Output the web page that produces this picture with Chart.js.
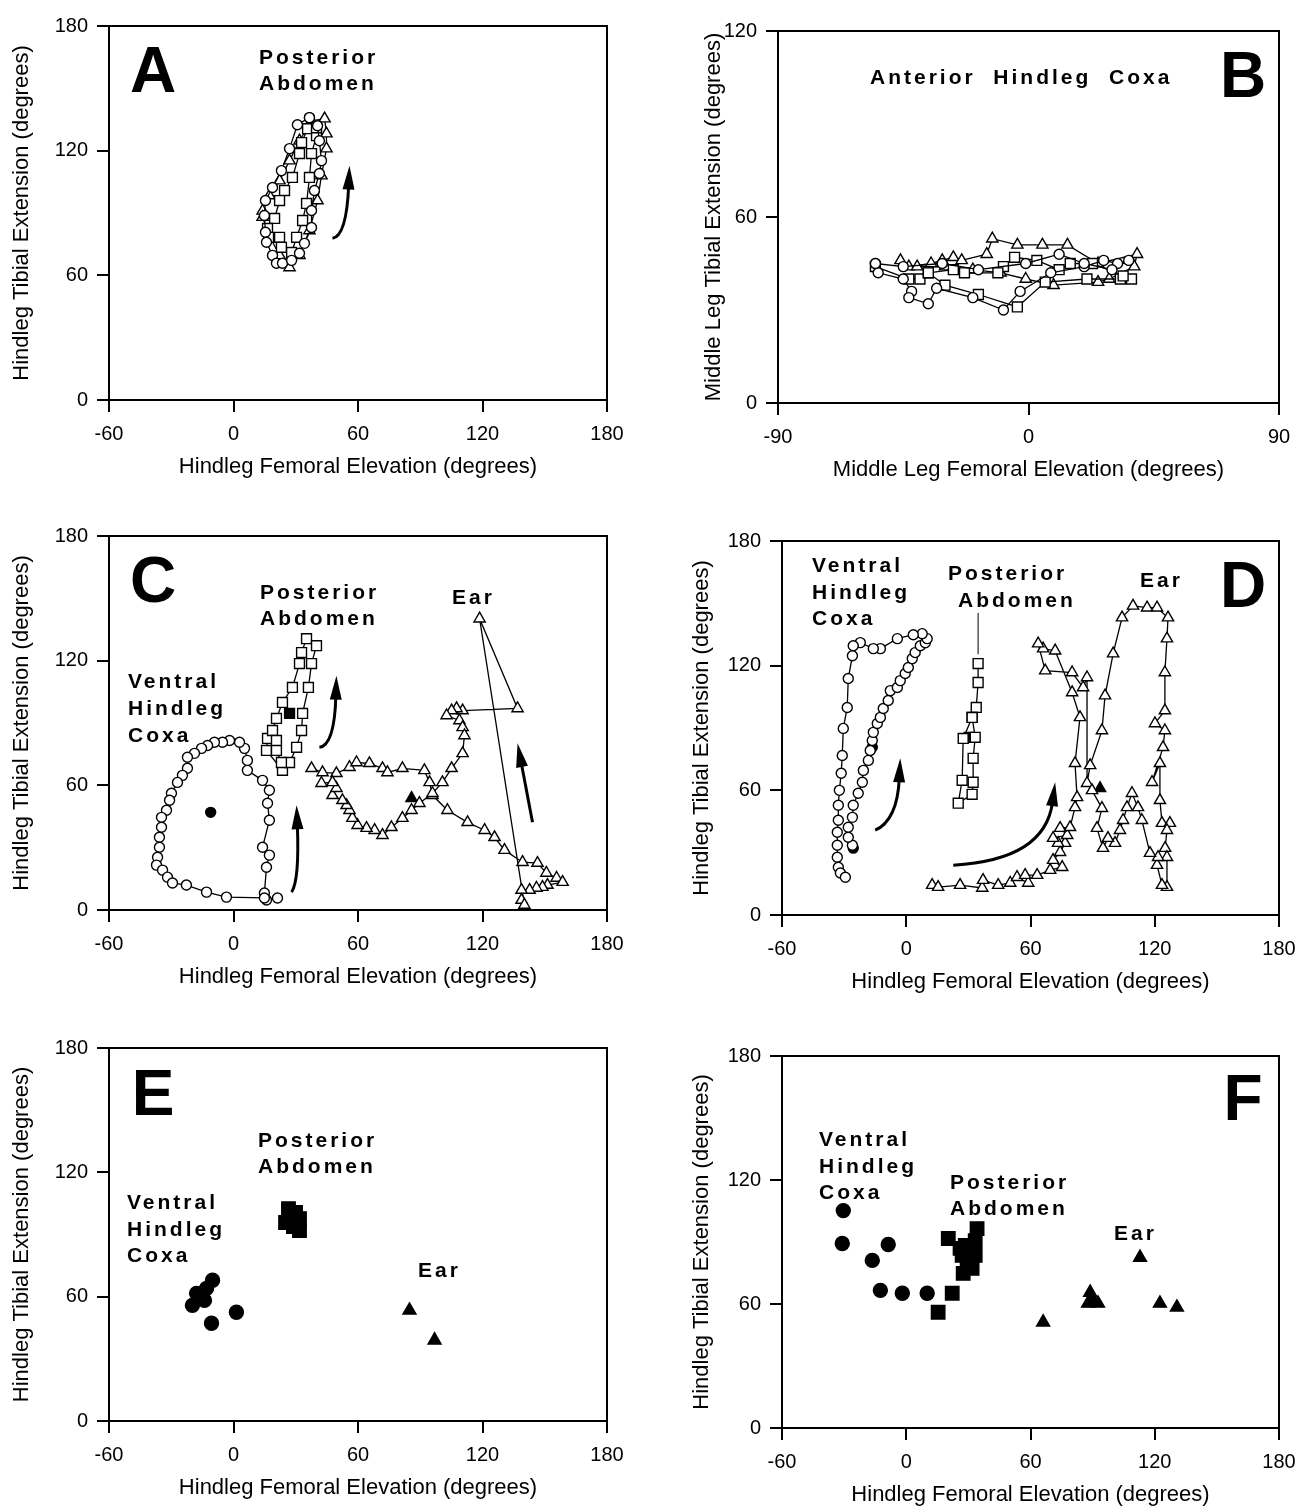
<!DOCTYPE html>
<html>
<head>
<meta charset="utf-8">
<script src="https://cdn.jsdelivr.net/npm/chart.js@4.4.1/dist/chart.umd.min.js"></script>
<style>
body { margin: 0; background: #fff; width: 1301px; height: 1506px; position: relative; overflow: hidden;
       font-family: "Liberation Sans", Arial, sans-serif; }
canvas { position: absolute; }
.lbl { position: absolute; font-weight: bold; font-size: 21px; line-height: 21px; letter-spacing: 3px;
       white-space: pre; color: #000; }
.big { position: absolute; font-weight: bold; font-size: 64px; line-height: 64px; color: #000;
       transform: translate(-50%, -50%); }
</style>
</head>
<body>
<canvas id="cA"></canvas>
<canvas id="cB"></canvas>
<canvas id="cC"></canvas>
<canvas id="cD"></canvas>
<canvas id="cE"></canvas>
<canvas id="cF"></canvas>

<div class="big" style="left:153px;top:70px">A</div>
<div class="lbl" style="left:259px;top:46px">Posterior</div>
<div class="lbl" style="left:259px;top:72px">Abdomen</div>

<div class="big" style="left:1243px;top:75px">B</div>
<div class="lbl" style="left:870px;top:66px">Anterior  Hindleg  Coxa</div>

<div class="big" style="left:153px;top:580px">C</div>
<div class="lbl" style="left:260px;top:581px">Posterior</div>
<div class="lbl" style="left:260px;top:607px">Abdomen</div>
<div class="lbl" style="left:452px;top:586px">Ear</div>
<div class="lbl" style="left:128px;top:670px">Ventral</div>
<div class="lbl" style="left:128px;top:697px">Hindleg</div>
<div class="lbl" style="left:128px;top:724px">Coxa</div>

<div class="big" style="left:1243px;top:585px">D</div>
<div class="lbl" style="left:812px;top:554px">Ventral</div>
<div class="lbl" style="left:812px;top:581px">Hindleg</div>
<div class="lbl" style="left:812px;top:607px">Coxa</div>
<div class="lbl" style="left:948px;top:562px">Posterior</div>
<div class="lbl" style="left:958px;top:589px">Abdomen</div>
<div class="lbl" style="left:1140px;top:569px">Ear</div>

<div class="big" style="left:153px;top:1093px">E</div>
<div class="lbl" style="left:258px;top:1129px">Posterior</div>
<div class="lbl" style="left:258px;top:1155px">Abdomen</div>
<div class="lbl" style="left:127px;top:1191px">Ventral</div>
<div class="lbl" style="left:127px;top:1218px">Hindleg</div>
<div class="lbl" style="left:127px;top:1244px">Coxa</div>
<div class="lbl" style="left:418px;top:1259px">Ear</div>

<div class="big" style="left:1243px;top:1098px">F</div>
<div class="lbl" style="left:819px;top:1128px">Ventral</div>
<div class="lbl" style="left:819px;top:1155px">Hindleg</div>
<div class="lbl" style="left:819px;top:1181px">Coxa</div>
<div class="lbl" style="left:950px;top:1171px">Posterior</div>
<div class="lbl" style="left:950px;top:1197px">Abdomen</div>
<div class="lbl" style="left:1114px;top:1222px">Ear</div>

<script>
// axis ticks
const hindX = [-60, 0, 60, 120, 180];
const hindY = [0, 60, 120, 180];
const midX = [-90, 0, 90];
const midY = [0, 60, 120];

const hindXTitle = 'Hindleg Femoral Elevation (degrees)';
const hindYTitle = 'Hindleg Tibial Extension (degrees)';
const midXTitle = 'Middle Leg Femoral Elevation (degrees)';
const midYTitle = 'Middle Leg Tibial Extension (degrees)';

// Panel A - posterior abdomen, three strokes
const aCircles = [[36.6,135.9],[30.8,132.5],[27,121],[23.1,110.4],[18.8,102.3],[15.4,96],[14.9,88.8],[15.4,80.7],[15.9,75.9],[18.8,69.6],[20.7,65.8],[23.6,65.8],[28,67.2],[31.8,70.6],[34.2,75.4],[37.6,83],[37.6,91.2],[39,100.8],[41.4,109],[42.4,115.2],[41.4,124.8],[40.5,132],[36.6,135.9]];
const aSquares = [[35.7,130.6],[32.8,123.9],[31.8,118.6],[28.4,107.1],[24.6,100.8],[22.2,96],[19.8,87.4],[16.4,82.6],[16.9,78.3],[22.2,78.3],[23.1,73.5],[28,71],[30.4,78.3],[33.3,86.4],[35.2,94.6],[36.6,107.1],[37.6,118.6],[40,127.2],[40,131]];
const aTriangles = [[14,91],[14,88],[17.3,79],[22.2,69.6],[27,63.8],[31.8,69.6],[36.6,81.6],[40.5,96],[42.4,108],[44.8,121],[44.8,128.2],[43.9,135.4],[37.6,134.4],[31.8,124.8],[27,115.2],[22.2,105.6],[17.3,98.4]];

// Panel B - anterior hindleg coxa (middle leg)
const bCircles = [[-55,45],[-54,42],[-45,40],[-42,36],[-43,34],[-36,32],[-33,37],[-20,34],[-9,30],[-3,36],[8,42],[20,44],[27,46],[32,45],[36,46],[30,43],[20,45],[11,48],[-1,45],[-18,43],[-31,45],[-45,44],[-55,45]];
const bSquares = [[-55,44],[-43,40],[-39,40],[-36,42],[-30,38],[-18,35],[-4,31],[6,39],[21,40],[33,40],[37,40],[34,41],[23,45],[15,45],[11,43],[3,46],[-5,47],[-9,44],[-11,42],[-23,42],[-27,43],[-36,42]];
const bTriangles = [[-46,46],[-43,44],[-35,45],[-31,46],[-27,47],[-24,46],[-15,48],[-13,53],[-4,51],[5,51],[14,51],[25,45],[39,48],[38,44],[29,40],[25,39],[9,38],[-1,40],[-10,42],[-20,43],[-30,44],[-40,44]];

// Panel C - three stimulus sites
const cCoxa = [[21.2,5.8],[15.9,4.8],[14.9,8.2],[15.9,20.6],[17.3,26.4],[14,30.2],[17.3,43.2],[16.4,51.4],[17.3,57.6],[14,62.4],[6.7,67.2],[6.7,72],[5.3,77.8],[2.9,80.7],[-1.9,81.6],[-5.3,80.7],[-9.2,80.7],[-12.5,79.2],[-15.4,77.8],[-18.8,75.4],[-22.2,73.5],[-22.2,68.2],[-24.6,64.8],[-27,61.4],[-29.9,56.2],[-30.8,52.8],[-32.3,48],[-34.7,44.6],[-34.7,39.8],[-35.7,35],[-35.7,30.2],[-36.6,25.4],[-37.1,21.6],[-34.2,19.2],[-31.8,15.8],[-29.4,13],[-22.7,12],[-13,8.6],[-3.4,6.2],[14.9,5.8]];
const cCoxaMean = [[-11,47]];
const cAbdomen = [[23.6,67.2],[15.9,76.8],[16.4,82.6],[18.8,86.4],[20.7,92.2],[23.6,99.9],[28.4,107.1],[31.8,118.6],[32.8,123.9],[35.2,130.6],[40,127.2],[37.6,118.6],[36.1,107.1],[33.3,94.6],[32.8,86.4],[30.4,78.3],[27,71],[23.1,71],[20.7,76.8],[20.7,81.6]];
const cAbdomenMean = [[27,94.6]];
const cEar = [[37.6,68.2],[42.9,66.2],[49.6,65.8],[55.9,68.7],[59.3,71],[65.5,70.6],[71.8,68.2],[74.2,66.2],[81.4,68.2],[92,67.2],[94.5,61.4],[95.9,55.2],[103.1,48],[112.8,42.2],[121,38.4],[125.8,35],[130.6,28.8],[139.3,23],[146.5,22.6],[150.8,17.8],[155.7,15.4],[158.6,13.4],[151.3,12],[148.9,11],[146,10.6],[142.7,9.6],[138.8,9.6],[138.8,4.8],[140.2,2.4],[118.6,140.2],[136.9,97],[110.4,96],[107.5,97],[105.1,96],[102.7,93.6],[108.9,91.2],[110.4,87.9],[111.3,84],[110.4,75.4],[105.1,68.2],[100.7,61.4],[95.9,56.2],[89.6,51.4],[85.8,48],[81.4,44.2],[76.1,39.8],[71.8,36],[68,38.4],[64.1,39.4],[59.8,40.8],[57.3,44.2],[55.9,48],[54.5,50.4],[52.5,52.8],[47.7,55.2],[49.6,58.6],[47.7,61.4],[42.4,61]];
const cEarMean = [[85.8,53.8]];

// Panel D - three stimulus sites
const dCoxa = [[-26,33.6],[-28,37.4],[-28,42.2],[-26,47],[-25.6,52.8],[-23.2,58.6],[-21.2,63.9],[-20.7,69.6],[-18.3,74.4],[-17.4,79.2],[-16.4,84],[-15.9,87.9],[-14,92.2],[-12.5,95.1],[-11.1,99.4],[-8.7,103.2],[-7.7,108],[-4.3,109.5],[-2.9,112.8],[-0.5,116.2],[1,119.1],[2.9,123.4],[4.3,126.3],[6.8,129.6],[9.2,131],[10.1,133],[7.7,135.4],[3.4,134.9],[-4.3,133],[-12.5,128.2],[-15.9,128.2],[-22.2,131.1],[-25.6,129.6],[-26,124.8],[-28,113.8],[-28.5,99.9],[-30.4,89.8],[-30.9,76.8],[-31.4,68.2],[-32.3,60],[-32.8,52.8],[-32.8,45.6],[-33.3,39.8],[-33.3,33.6],[-33.3,27.8],[-32.8,23],[-31.8,20.2],[-29.4,18.2]];
const dCoxaMean = [[-16.4,80.7],[-25.6,32.2]];
const dAbdomen = [[34.7,121],[34.7,111.9],[33.8,99.9],[31.8,95.1],[27.5,85],[27,64.8],[25.1,53.8],[31.8,58.1],[32.3,63.9],[32.3,75.4],[33.3,85.5],[31.8,95.1]];
const dAbdomenMean = [[30.4,85.5]];
const dEar = [[12.5,14.4],[15.4,13.4],[26,14.4],[36.7,13],[37.1,16.8],[44.4,14.4],[50.2,15.4],[53.5,18.2],[58.9,15.4],[57.4,19.2],[63.2,19.2],[69.5,21.6],[75.3,23],[70.9,26.4],[74.3,30.2],[76.7,34.6],[73.3,34.6],[70.9,37],[77.7,38.4],[74.3,41.8],[79.1,42.2],[81.5,51.8],[82.5,56.6],[81.5,73],[83.9,95.1],[80.1,107.1],[71.9,127.2],[66.1,128.2],[63.7,130.6],[67.1,117.6],[80.1,116.7],[85.4,109.5],[87.3,114.3],[87.3,63.4],[88.8,72],[94.5,88.8],[96,105.6],[99.9,125.8],[104.2,143.1],[109.5,148.8],[116.3,147.9],[121.1,147.9],[126.4,143.1],[125.9,133],[124.9,116.7],[124.9,98.4],[120.1,92.2],[124.9,88.8],[124,80.7],[118.7,63.9],[122.5,73],[122.5,55.2],[123.5,44.2],[127.3,44.2],[125.9,40.8],[125,32.2],[125.9,27.8],[125.9,13.4],[123.5,14.4],[121.1,24],[121.6,27.8],[117.7,29.8],[113.8,45.6],[111.9,51.8],[109,58.6],[106.6,51.8],[104.7,45.6],[103.2,40.8],[100.8,34.6],[97.4,37],[95,32.2],[92.1,41.8],[94.5,51.4],[89.7,60]];
const dEarMean = [[93.6,61]];

// Panel E - means, one animal
const eCoxa = [[-10.1,67.9],[-13,64],[-17.8,61.6],[-14,58.2],[-19.8,55.8],[1.4,52.5],[-10.6,47.2],[-15,60]];
const eAbdomen = [[26.5,102.5],[29.9,100.6],[25.1,95.8],[31.8,97.7],[28.9,93.8],[31.8,91.9],[27.5,99.1]];
const eEar = [[84.8,53.4],[96.9,39]];

// Panel F - means, all animals
const fCoxa = [[-30.4,105.2],[-30.9,89.3],[-8.7,88.8],[-16.4,81.1],[-12.5,66.6],[-1.9,65.2],[10.1,65.2]];
const fAbdomen = [[20.3,91.7],[22.2,65.2],[15.4,56],[34.2,96.5],[33.3,90.7],[28.5,88.3],[31.4,85.9],[27,83.5],[33.3,83.5],[29.4,80.1],[27.5,74.8],[31.8,77.2],[26,86.9]];
const fEar = [[112.9,82.5],[88.8,65.6],[90.2,61.8],[92.6,60.3],[87.8,60.3],[122.5,60.3],[130.7,58.4],[66.1,51.2]];

const FONT = '"Liberation Sans", Arial, sans-serif';

// frame, arrows and leader lines drawn in data coordinates
const annotate = {
    id: 'annotate',
    afterDatasetsDraw(chart, args, opts) {
        const { ctx, chartArea: a, scales: { x, y } } = chart;
        const px = v => [x.getPixelForValue(v[0]), y.getPixelForValue(v[1])];
        ctx.save();
        ctx.strokeStyle = '#000';
        ctx.fillStyle = '#000';
        ctx.lineWidth = 2;
        ctx.strokeRect(a.left, a.top, a.right - a.left, a.bottom - a.top);

        (opts.lines || []).forEach(l => {
            const s = px(l[0]), t = px(l[1]);
            ctx.lineWidth = 1;
            ctx.beginPath(); ctx.moveTo(s[0], s[1]); ctx.lineTo(t[0], t[1]); ctx.stroke();
        });

        (opts.arrows || []).forEach(ar => {
            const s = px(ar.from), t = px(ar.to);
            const c = ar.via ? px(ar.via) : s;
            let dx = t[0] - c[0], dy = t[1] - c[1];
            const len = Math.hypot(dx, dy);
            dx /= len; dy /= len;
            const headLen = 24, headW = 6;
            const bx = t[0] - dx * headLen, by = t[1] - dy * headLen;
            ctx.lineWidth = 3;
            ctx.beginPath();
            ctx.moveTo(s[0], s[1]);
            if (ar.via) ctx.quadraticCurveTo(c[0], c[1], bx + dx * 4, by + dy * 4);
            else ctx.lineTo(bx + dx * 4, by + dy * 4);
            ctx.stroke();
            ctx.beginPath();
            ctx.moveTo(t[0], t[1]);
            ctx.lineTo(bx - dy * headW, by + dx * headW);
            ctx.lineTo(bx + dy * headW, by - dx * headW);
            ctx.closePath();
            ctx.fill();
        });
        ctx.restore();
    }
};

function series(pts, shape, filled, r, line) {
    return {
        data: pts.map(p => ({ x: p[0], y: p[1] })),
        showLine: line,
        borderColor: '#000',
        borderWidth: 1.3,
        pointStyle: shape,
        pointRadius: r,
        pointBorderWidth: 1.4,
        pointBackgroundColor: filled ? '#000' : '#fff',
        pointBorderColor: '#000'
    };
}

function axis(min, max, ticks, title, isX, titlePad, fitSize) {
    return {
        type: 'linear', min: min, max: max,
        afterBuildTicks: s => { s.ticks = ticks.map(v => ({ value: v })); },
        afterFit: s => { if (isX) s.height = fitSize; else s.width = fitSize; },
        grid: { display: true, drawOnChartArea: false, drawTicks: true, tickLength: 12, color: '#000', lineWidth: 2 },
        border: { display: true, color: '#000', width: 2 },
        ticks: { color: '#000', font: { size: 20, family: FONT }, padding: isX ? 10 : 9, autoSkip: false, maxRotation: 0 },
        title: {
            display: true, text: title, color: '#000',
            font: { size: 22, family: FONT, lineHeight: 1 },
            padding: isX ? { top: 0, bottom: titlePad } : { top: titlePad, bottom: 0 }
        }
    };
}

// box = plot frame in page pixels, canvas starts at colLeft
function makePanel(id, box, colLeft, xs, ys, datasets, notes) {
    const top = 20, right = 32, bottom = 90;
    const cv = document.getElementById(id);
    cv.width = box[2] + right - colLeft;
    cv.height = box[3] - box[1] + top + bottom;
    cv.style.left = colLeft + 'px';
    cv.style.top = (box[1] - top) + 'px';
    new Chart(cv, {
        type: 'scatter',
        data: { datasets: datasets },
        options: {
            responsive: false,
            animation: false,
            layout: { padding: { left: 0, right: right, top: top, bottom: 0 } },
            plugins: { legend: { display: false }, tooltip: { enabled: false }, annotate: notes },
            scales: {
                x: axis(xs.min, xs.max, xs.ticks, xs.title, true, 12, bottom),
                y: axis(ys.min, ys.max, ys.ticks, ys.title, false, ys.pad, box[0] - colLeft)
            }
        },
        plugins: [annotate]
    });
}

const hx = { min: -60, max: 180, ticks: hindX, title: hindXTitle };
const hyL = { min: 0, max: 180, ticks: hindY, title: hindYTitle, pad: 11 };
const hyR = { min: 0, max: 180, ticks: hindY, title: hindYTitle, pad: 31 };

makePanel('cA', [109, 25, 607, 400], 0, hx, hyL, [
    series(aCircles, 'circle', false, 5, true),
    series(aSquares, 'rect', false, 7, true),
    series(aTriangles, 'triangle', false, 6.5, true)
], { arrows: [{ from: [47.7, 77.8], via: [54.5, 79], to: [55.9, 112.8] }] });

makePanel('cB', [778, 30, 1279, 403], 660,
    { min: -90, max: 90, ticks: midX, title: midXTitle },
    { min: 0, max: 120, ticks: midY, title: midYTitle, pad: 43 }, [
    series(bCircles, 'circle', false, 5, true),
    series(bSquares, 'rect', false, 7, true),
    series(bTriangles, 'triangle', false, 6.5, true)
], {});

makePanel('cC', [109, 535, 607, 910], 0, hx, hyL, [
    series(cCoxa, 'circle', false, 5, true),
    series(cAbdomen, 'rect', false, 7, true),
    series(cEar, 'triangle', false, 6.5, true),
    series(cCoxaMean, 'circle', true, 5, false),
    series(cAbdomenMean, 'rect', true, 7, false),
    series(cEarMean, 'triangle', true, 6.5, false)
], { arrows: [
    { from: [41.4, 78.3], via: [48.7, 79.2], to: [49.6, 112.8] },
    { from: [28, 8.6], via: [31.8, 14.4], to: [30.4, 50.4] },
    { from: [144.1, 42.2], to: [136.9, 80.2] }
] });

makePanel('cD', [782, 540, 1279, 915], 660, hx, hyR, [
    series(dCoxa, 'circle', false, 5, true),
    series(dAbdomen, 'rect', false, 7, true),
    series(dEar, 'triangle', false, 6.5, true),
    series(dCoxaMean, 'circle', true, 5, false),
    series(dAbdomenMean, 'rect', true, 7, false),
    series(dEarMean, 'triangle', true, 6.5, false)
], {
    arrows: [
        { from: [-15, 40.8], via: [-4.3, 45.6], to: [-2.9, 75.4] },
        { from: [22.7, 24], via: [67, 26.4], to: [71.9, 63.9] }
    ],
    lines: [[[34.7, 145.4], [34.7, 125.5]]]
});

makePanel('cE', [109, 1047, 607, 1421], 0, hx, hyL, [
    series(eCoxa, 'circle', true, 7, false),
    series(eAbdomen, 'rect', true, 9.5, false),
    series(eEar, 'triangle', true, 7.5, false)
], {});

makePanel('cF', [782, 1055, 1279, 1428], 660, hx, hyR, [
    series(fCoxa, 'circle', true, 7, false),
    series(fAbdomen, 'rect', true, 9.5, false),
    series(fEar, 'triangle', true, 7.5, false)
], {});
</script>
</body>
</html>
